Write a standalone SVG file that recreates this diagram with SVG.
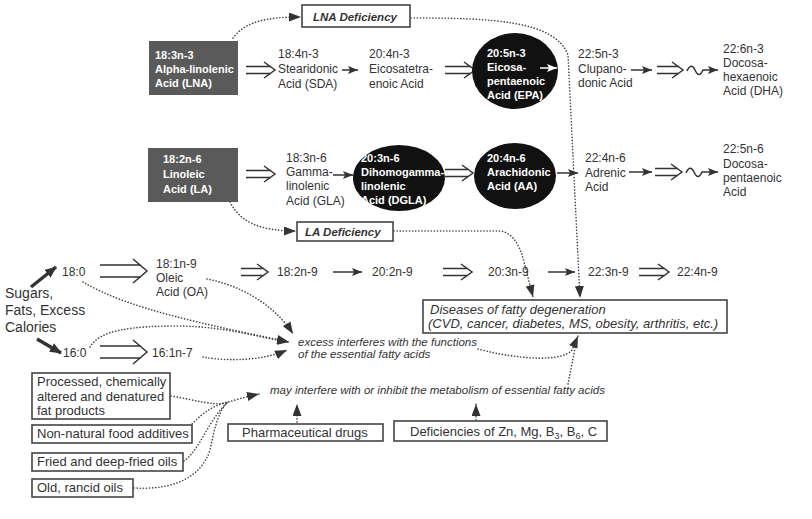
<svg xmlns="http://www.w3.org/2000/svg" width="812" height="519" viewBox="0 0 812 519">
<style>
text{font-family:"Liberation Sans",Arial,Helvetica,sans-serif;fill:#333}
.t{font-size:12px}
.l{font-size:14px}
.w{font-size:11px;font-weight:bold;fill:#fff}
.it{font-size:11.5px;font-style:italic}
.di{font-size:13px;font-style:italic}
.bi{font-size:11.5px;font-style:italic;font-weight:bold}
.bx{font-size:13px}
.box{fill:#fff;stroke:#444;stroke-width:1.6}
.dark{fill:#5a5a5a}
.blk{fill:#111}
.sol{fill:none;stroke:#333;stroke-width:1.5}
.dbl{fill:none;stroke:#333;stroke-width:1.5}
.dot{fill:none;stroke:#444;stroke-width:1.6;stroke-dasharray:0.1 3;stroke-linecap:round}
.thk{fill:none;stroke:#333;stroke-width:3.5}
</style>
<defs>
<marker id="ah" viewBox="0 0 10 8" refX="10" refY="4" markerWidth="10" markerHeight="8" markerUnits="userSpaceOnUse" orient="auto"><path d="M0,0 L10,4 L0,8 L2,4 z" fill="#333" stroke="none"/></marker>
<marker id="ahw" viewBox="0 0 10 8" refX="10" refY="4" markerWidth="10" markerHeight="8" markerUnits="userSpaceOnUse" orient="auto"><path d="M0,0 L10,4 L0,8 L2,4 z" fill="#fff" stroke="none"/></marker>
<marker id="dh" viewBox="0 0 12 9" refX="12" refY="4.5" markerWidth="12" markerHeight="9" markerUnits="userSpaceOnUse" orient="auto"><path d="M0,0 L12,4.5 L0,9 z" fill="#333" stroke="none"/></marker>
<marker id="th" viewBox="0 0 12 10" refX="11" refY="5" markerWidth="12" markerHeight="10" markerUnits="userSpaceOnUse" orient="auto"><path d="M0,0 L12,5 L0,10 z" fill="#333" stroke="none"/></marker>
</defs>
<rect width="812" height="519" fill="#fff"/>

<g id="connectors">
<!-- n-3 row -->
<path class="dbl" d="M246,66.5H271 M246,73.5H271 M264,62L275,70L264,78"/>
<path class="sol" d="M342,70H358" marker-end="url(#ah)"/>
<path class="dbl" d="M445,66.5H471 M445,73.5H471 M464,62L475,70L464,78"/>
<path class="dbl" d="M657,66.5H679 M657,73.5H679 M672,62L683,70L672,78"/>
<path class="sol" d="M631,70H652" marker-end="url(#ah)"/>
<path class="sol" d="M687,71 q4,-9 8,-1 q4,9 8,0 L718,70" marker-end="url(#ah)"/>
<!-- n-6 row -->
<path class="dbl" d="M246,170.5H271 M246,177.5H271 M264,166L275,174L264,182"/>
<path class="sol" d="M333,175H353" marker-end="url(#ah)"/>
<path class="dbl" d="M445,169.5H469 M445,176.5H469 M462,165L473,173L462,181"/>
<path class="sol" d="M557,173H578" marker-end="url(#ah)"/>
<path class="sol" d="M629,172H652" marker-end="url(#ah)"/>
<path class="dbl" d="M655,168.5H678 M655,175.5H678 M671,164L682,172L671,180"/>
<path class="sol" d="M686,173 q4,-9 8,-1 q4,9 8,0 L718,172" marker-end="url(#ah)"/>
<!-- n-9 row -->
<path class="dbl" d="M100,265H141 M100,277H141 M133,259L147,271L133,283"/>
<path class="dbl" d="M241,268.5H264 M241,275.5H264 M257,264L268,272L257,280"/>
<path class="sol" d="M333,272H362" marker-end="url(#ah)"/>
<path class="dbl" d="M443,268.5H468 M443,275.5H468 M461,264L472,272L461,280"/>
<path class="sol" d="M548,272H575" marker-end="url(#ah)"/>
<path class="dbl" d="M639,268.5H665 M639,275.5H665 M658,264L669,272L658,280"/>
<path class="dbl" d="M100,346H141 M100,358H141 M133,340L147,352L133,364"/>
<path class="thk" d="M31,287 L56,267" marker-end="url(#th)"/>
<path class="thk" d="M37,339 L61,353" marker-end="url(#th)"/>
<!-- dotted -->
<path class="dot" d="M233,38 C245,22 265,17 301,17" marker-end="url(#dh)"/>
<path class="dot" d="M411,18 C490,18 555,20 568,55 L580,298" marker-end="url(#dh)"/>
<path class="dot" d="M230,202 C240,222 260,231 296,231" marker-end="url(#dh)"/>
<path class="dot" d="M394,231 L500,231 C512,232 520,245 524,262 L533,297" marker-end="url(#dh)"/>
<path class="dot" d="M83,282 C130,310 210,325 289,342" marker-end="url(#dh)"/>
<path class="dot" d="M207,279 C240,285 275,305 293,334" marker-end="url(#dh)"/>
<path class="dot" d="M90,347 C100,330 130,326 180,326 C230,327 260,338 289,342" marker-end="url(#dh)"/>
<path class="dot" d="M203,357 C230,362 265,360 287,350" marker-end="url(#dh)"/>
<path class="dot" d="M478,349 C520,360 562,362 572,350 L578,336" marker-end="url(#dh)"/>
<path class="dot" d="M568,384 L577,338"/>
<path class="dot" d="M171,396 C195,400 215,406 225,403 C235,400 245,397 259,394" marker-end="url(#dh)"/>
<path class="dot" d="M190,426 C200,416 210,406 228,402"/>
<path class="dot" d="M184,461 C200,450 208,420 228,402"/>
<path class="dot" d="M134,488 C170,490 200,480 210,450 C215,425 220,408 228,402"/>
<path class="dot" d="M297,422 L297,404" marker-end="url(#dh)"/>
<path class="dot" d="M476,420 L476,404" marker-end="url(#dh)"/>
</g>

<g id="n-LNA"><rect class="dark" x="149" y="41" width="89" height="54"/>
<text class="w"><tspan x="155" y="59">18:3n-3</tspan><tspan x="155" y="73">Alpha-linolenic</tspan><tspan x="155" y="87">Acid (LNA)</tspan></text></g>
<g id="n-SDA"><text class="t"><tspan x="278" y="58">18:4n-3</tspan><tspan x="278" y="73">Stearidonic</tspan><tspan x="278" y="88">Acid (SDA)</tspan></text></g>
<g id="n-ETA"><text class="t"><tspan x="369" y="58">20:4n-3</tspan><tspan x="369" y="73">Eicosatetra-</tspan><tspan x="369" y="88">enoic Acid</tspan></text></g>
<g id="n-EPA"><ellipse class="blk" cx="515" cy="71" rx="43" ry="38"/>
<text class="w"><tspan x="487" y="57">20:5n-3</tspan><tspan x="487" y="71">Eicosa-</tspan><tspan x="487" y="85">pentaenoic</tspan><tspan x="487" y="99">Acid (EPA)</tspan></text>
<path d="M540,68H557" fill="none" stroke="#fff" stroke-width="1.5" marker-end="url(#ahw)"/></g>
<g id="n-DPA3"><text class="t"><tspan x="578" y="58">22:5n-3</tspan><tspan x="578" y="73">Clupano-</tspan><tspan x="578" y="87">donic Acid</tspan></text></g>
<g id="n-DHA"><text class="t"><tspan x="723" y="53">22:6n-3</tspan><tspan x="723" y="67">Docosa-</tspan><tspan x="723" y="81">hexaenoic</tspan><tspan x="723" y="95">Acid (DHA)</tspan></text></g>
<g id="n-LNAdef"><rect class="box" x="302" y="5" width="108" height="22"/><text class="bi" x="313" y="21">LNA Deficiency</text></g>

<g id="n-LA"><rect class="dark" x="148" y="148" width="90" height="54"/>
<text class="w"><tspan x="163" y="163">18:2n-6</tspan><tspan x="163" y="178">Linoleic</tspan><tspan x="163" y="193">Acid (LA)</tspan></text></g>
<g id="n-GLA"><text class="t"><tspan x="286" y="162">18:3n-6</tspan><tspan x="286" y="176">Gamma-</tspan><tspan x="286" y="190">linolenic</tspan><tspan x="286" y="205">Acid (GLA)</tspan></text></g>
<g id="n-DGLA"><ellipse class="blk" cx="399" cy="178" rx="46" ry="33"/>
<text class="w"><tspan x="361" y="162">20:3n-6</tspan><tspan x="361" y="176">Dihomogamma-</tspan><tspan x="361" y="190">linolenic</tspan><tspan x="361" y="204">Acid (DGLA)</tspan></text></g>
<g id="n-AA"><ellipse class="blk" cx="515" cy="176" rx="41" ry="33"/>
<text class="w"><tspan x="487" y="162">20:4n-6</tspan><tspan x="487" y="176">Arachidonic</tspan><tspan x="487" y="190">Acid (AA)</tspan></text></g>
<g id="n-adrenic"><text class="t"><tspan x="585" y="162">22:4n-6</tspan><tspan x="585" y="177">Adrenic</tspan><tspan x="585" y="191">Acid</tspan></text></g>
<g id="n-DPA6"><text class="t"><tspan x="723" y="153">22:5n-6</tspan><tspan x="723" y="168">Docosa-</tspan><tspan x="723" y="182">pentaenoic</tspan><tspan x="723" y="196">Acid</tspan></text></g>
<g id="n-LAdef"><rect class="box" x="297" y="222" width="96" height="19"/><text class="bi" x="305" y="236">LA Deficiency</text></g>

<g id="n-180"><text class="t" x="62" y="276">18:0</text></g>
<g id="n-OA"><text class="t"><tspan x="156" y="268">18:1n-9</tspan><tspan x="156" y="282">Oleic</tspan><tspan x="156" y="296">Acid (OA)</tspan></text></g>
<g id="n-182n9"><text class="t" x="277" y="276">18:2n-9</text></g>
<g id="n-202n9"><text class="t" x="372" y="276">20:2n-9</text></g>
<g id="n-203n9"><text class="t" x="488" y="276">20:3n-9</text></g>
<g id="n-223n9"><text class="t" x="588" y="276">22:3n-9</text></g>
<g id="n-224n9"><text class="t" x="677" y="276">22:4n-9</text></g>
<g id="n-sugars"><text class="l"><tspan x="5" y="298">Sugars,</tspan><tspan x="5" y="315">Fats, Excess</tspan><tspan x="5" y="332">Calories</tspan></text></g>
<g id="n-160"><text class="t" x="63" y="357">16:0</text></g>
<g id="n-161"><text class="t" x="152" y="357">16:1n-7</text></g>
<g id="n-excess"><text class="it"><tspan x="298" y="346">excess interferes with the functions</tspan><tspan x="298" y="358">of the essential fatty acids</tspan></text></g>
<g id="n-diseases"><rect class="box" x="423" y="300" width="304" height="33"/>
<text class="di"><tspan x="430" y="314">Diseases of fatty degeneration</tspan><tspan x="428" y="328">(CVD, cancer, diabetes, MS, obesity, arthritis, etc.)</tspan></text></g>

<g id="n-processed"><rect class="box" x="32" y="373" width="138" height="46"/>
<text class="bx"><tspan x="37" y="386">Processed, chemically</tspan><tspan x="37" y="401">altered and denatured</tspan><tspan x="37" y="415">fat products</tspan></text></g>
<g id="n-additives"><rect class="box" x="32" y="425" width="160" height="18"/><text class="bx" x="37" y="438">Non-natural food additives</text></g>
<g id="n-fried"><rect class="box" x="32" y="453" width="151" height="18"/><text class="bx" x="37" y="466">Fried and deep-fried oils</text></g>
<g id="n-rancid"><rect class="box" x="32" y="479" width="101" height="18"/><text class="bx" x="37" y="492">Old, rancid oils</text></g>
<g id="n-may"><text class="it" x="270" y="394">may interfere with or inhibit the metabolism of essential fatty acids</text></g>
<g id="n-pharma"><rect class="box" x="228" y="424" width="155" height="17"/><text class="bx" x="242" y="437">Pharmaceutical drugs</text></g>
<g id="n-defic"><rect class="box" x="394" y="421" width="213" height="20"/>
<text class="bx" x="410" y="436">Deficiencies of Zn, Mg, B<tspan font-size="9" dy="3">3</tspan><tspan dy="-3">, B</tspan><tspan font-size="9" dy="3">6</tspan><tspan dy="-3">, C</tspan></text></g>
</svg>
